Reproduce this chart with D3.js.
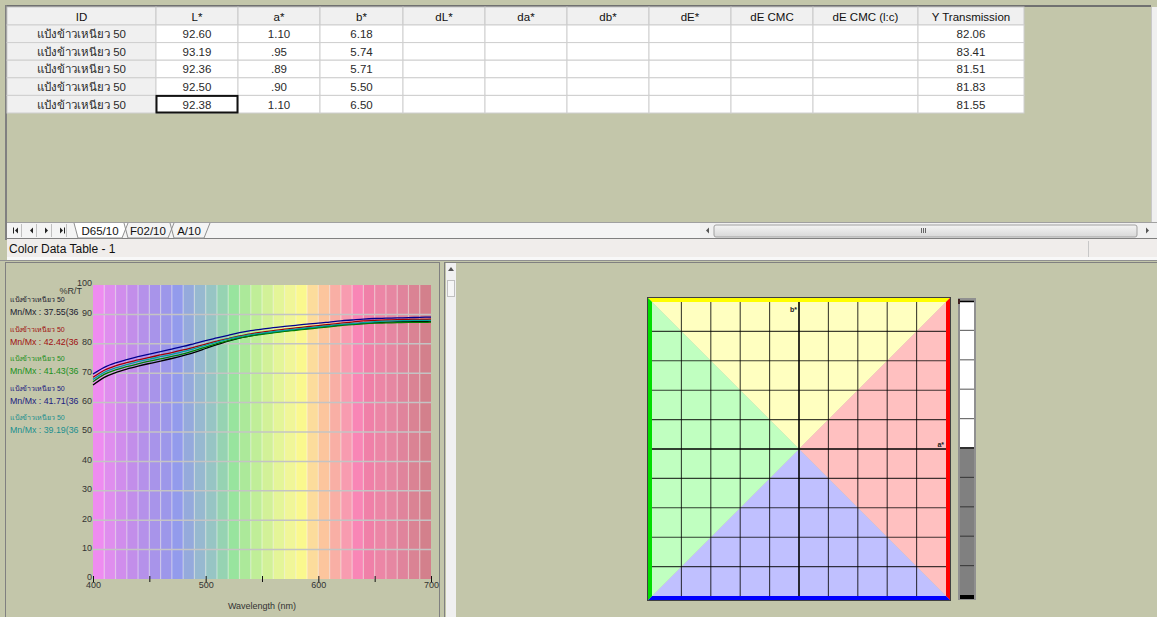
<!DOCTYPE html>
<html lang="en">
<head>
<meta charset="UTF-8">
<title>Color Data Table - 1</title>
<script src="https://cdn.jsdelivr.net/npm/d3@7"></script>
<style>
  body { margin: 0; background: #c3c6aa; }
  svg { display: block; font-family: "Liberation Sans", "DejaVu Sans", "Noto Sans", sans-serif; }
  .axis text { font-size: 9px; fill: #333; }
</style>
</head>
<body>
<script>
// ---- data ----
let columns = ["ID", "L*", "a*", "b*", "dL*", "da*", "db*", "dE*", "dE CMC", "dE CMC (l:c)", "Y Transmission"]
let sampleIds = ["แป้งข้าวเหนียว 50", "แป้งข้าวเหนียว 50", "แป้งข้าวเหนียว 50", "แป้งข้าวเหนียว 50", "แป้งข้าวเหนียว 50"]
let Lvals = ["92.60", "93.19", "92.36", "92.50", "92.38"]
let avals = ["1.10", ".95", ".89", ".90", "1.10"]
let bvals = ["6.18", "5.74", "5.71", "5.50", "6.50"]
let yTrans = ["82.06", "83.41", "81.51", "81.83", "81.55"]
let tabs = ["D65/10", "F02/10", "A/10"]
let minMax = ["37.55", "42.42", "41.43", "41.71", "39.19"]

let wavelengths = d3.range(400, 701, 10)
let seriesBlack = [66.0, 68.6, 70.2, 71.4, 72.4, 73.3, 74.1, 75.0, 76.0, 77.1, 78.4, 79.7, 80.9, 81.9, 82.7, 83.4, 83.9, 84.4, 84.8, 85.2, 85.6, 86.0, 86.4, 86.7, 87.0, 87.2, 87.4, 87.5, 87.6, 87.6, 87.7]
let seriesRed   = [68.6, 71.0, 72.5, 73.6, 74.5, 75.4, 76.2, 77.0, 77.9, 78.9, 79.9, 80.9, 81.8, 82.7, 83.4, 84.0, 84.5, 85.0, 85.4, 85.8, 86.2, 86.6, 87.0, 87.4, 87.8, 88.0, 88.1, 88.2, 88.3, 88.3, 88.4]
let seriesGreen = [67.1, 69.6, 71.1, 72.2, 73.2, 74.1, 74.9, 75.7, 76.6, 77.7, 78.9, 80.1, 81.1, 82.0, 82.7, 83.2, 83.7, 84.2, 84.6, 85.0, 85.4, 85.8, 86.2, 86.5, 86.8, 87.0, 87.1, 87.2, 87.3, 87.3, 87.4]
let seriesBlue  = [69.7, 72.0, 73.5, 74.6, 75.6, 76.5, 77.3, 78.2, 79.1, 80.1, 81.1, 82.0, 82.9, 83.8, 84.5, 85.0, 85.5, 85.9, 86.3, 86.7, 87.0, 87.4, 87.8, 88.1, 88.4, 88.6, 88.7, 88.8, 88.9, 89.0, 89.1]
let seriesTeal  = [67.9, 70.3, 71.8, 72.9, 73.9, 74.8, 75.6, 76.4, 77.3, 78.4, 79.5, 80.6, 81.6, 82.4, 83.1, 83.6, 84.1, 84.6, 85.0, 85.4, 85.8, 86.2, 86.6, 86.9, 87.2, 87.5, 87.7, 87.8, 87.9, 88.0, 88.0]
let yTicks = [0, 10, 20, 30, 40, 50, 60, 70, 80, 90, 100]
let xTicks = [400, 450, 500, 550, 600, 650, 700]
let xLabels = [400, 500, 600, 700]

// styles
let lineColors = ["#000000", "#a00000", "#008000", "#000090", "#00a0a0"]
let legendColors = ["#202030", "#a01010", "#209020", "#202080", "#208f8f"]
let stripeColors = ["#ee8cf0", "#df8eee", "#d08dec", "#c28eea", "#b591ea", "#a894ea", "#9d97ea", "#939bec", "#95aadc", "#97b9d0", "#97c5c4", "#96d3b2", "#98e49e", "#ace99a", "#c0ee98", "#d2f198", "#e4f598", "#f0f698", "#faf88e", "#fcdc9c", "#fcc59d", "#f9afa5", "#f89cb0", "#f986b6", "#f080a8", "#ec86a6", "#e687a2", "#e0849c", "#da8394", "#d3808c"]

let W = 1157, H = 617
let svg = d3.select("body").append("svg").attr("width", W).attr("height", H)
svg.append("rect").attr("width", W).attr("height", H).attr("fill", "#c3c6aa")

// ---- top frame ----
svg.append("rect").attr("x", 5).attr("y", 5).attr("width", 1146).attr("height", 2).attr("fill", "#707070")
svg.append("rect").attr("x", 5).attr("y", 5).attr("width", 2).attr("height", 235).attr("fill", "#808080")
svg.append("rect").attr("x", 1151).attr("y", 7).attr("width", 6).attr("height", 215).attr("fill", "#f0f0f0")
svg.append("line").attr("x1", 1151.5).attr("x2", 1151.5).attr("y1", 7).attr("y2", 222).attr("stroke", "#c8c8c8")

// ---- table ----
let colEdges = [7, 156, 238, 320, 403, 485, 567, 649, 731, 813, 918, 1024]
let rowScale = d3.scaleBand().domain(d3.range(sampleIds.length)).range([25, 113])
let table = svg.append("g")

columns.forEach((c, i) => {
  table.append("rect").attr("x", colEdges[i]).attr("y", 7).attr("width", colEdges[i + 1] - colEdges[i]).attr("height", 18)
    .attr("fill", "#f0f0f0").attr("stroke", "#c8c8c8")
  table.append("text").attr("x", (colEdges[i] + colEdges[i + 1]) / 2).attr("y", 21).attr("text-anchor", "middle")
    .attr("font-size", "11.5px").attr("fill", "#111").text(c)
})

let rows = sampleIds.map((id, i) => [id, Lvals[i], avals[i], bvals[i], "", "", "", "", "", "", yTrans[i]])
rows.forEach((r, ri) => {
  let y0 = rowScale(ri), h = rowScale.bandwidth()
  r.forEach((v, ci) => {
    table.append("rect").attr("x", colEdges[ci]).attr("y", y0).attr("width", colEdges[ci + 1] - colEdges[ci]).attr("height", h)
      .attr("fill", ci === 0 ? "#f0f0f0" : "#ffffff").attr("stroke", "#cfcfcf")
    if (v !== "")
      table.append("text").attr("x", (colEdges[ci] + colEdges[ci + 1]) / 2).attr("y", y0 + h - 4.5).attr("text-anchor", "middle")
        .attr("font-size", "11.5px").attr("fill", "#2a2a2a").text(v)
  })
})
table.append("rect").attr("x", colEdges[1] + 0.5).attr("y", rowScale(4) + 0.5).attr("width", colEdges[2] - colEdges[1] - 1)
  .attr("height", rowScale.bandwidth() - 1).attr("fill", "none").attr("stroke", "#111").attr("stroke-width", 2)

// ---- tab bar ----
let tabBar = svg.append("g")
tabBar.append("rect").attr("x", 7).attr("y", 222).attr("width", 1150).attr("height", 17).attr("fill", "#f4f4f4")
tabBar.append("line").attr("x1", 7).attr("x2", 1157).attr("y1", 222.5).attr("y2", 222.5).attr("stroke", "#a0a0a0")
tabBar.append("line").attr("x1", 7).attr("x2", 1157).attr("y1", 238.5).attr("y2", 238.5).attr("stroke", "#808080")
let navX = [12, 27, 42, 57]
navX.forEach((x, i) => {
  tabBar.append("line").attr("x1", x + 9.5).attr("x2", x + 9.5).attr("y1", 224).attr("y2", 237).attr("stroke", "#c0c0c0")
  let left = i < 2
  let cx = x + 4, cy = 230.5
  tabBar.append("path").attr("d", left ? `M${cx + 2},${cy - 3}L${cx - 1},${cy}L${cx + 2},${cy + 3}Z` : `M${cx - 1},${cy - 3}L${cx + 2},${cy}L${cx - 1},${cy + 3}Z`).attr("fill", "#222")
  if (i === 0) tabBar.append("rect").attr("x", cx - 3).attr("y", cy - 3).attr("width", 1).attr("height", 6).attr("fill", "#222")
  if (i === 3) tabBar.append("rect").attr("x", cx + 3).attr("y", cy - 3).attr("width", 1).attr("height", 6).attr("fill", "#222")
})
let tabX = [[74, 124], [124, 170], [170, 206]]
tabs.forEach((t, i) => {
  let [a, b] = tabX[i]
  tabBar.append("path").attr("d", `M${a},223 L${a + 4},238 L${b - 2},238 L${b + 4},223`).attr("fill", i === 0 ? "#ffffff" : "none").attr("stroke", "#909090")
  tabBar.append("text").attr("x", (a + b) / 2 + 1).attr("y", 234.5).attr("text-anchor", "middle").attr("font-size", "11.5px").attr("fill", "#111").text(t)
})
tabBar.append("rect").attr("x", 700).attr("y", 223).attr("width", 457).attr("height", 15).attr("fill", "#f0f0f0")
tabBar.append("path").attr("d", "M706,230.5L709,227.5L709,233.5Z").attr("fill", "#555")
tabBar.append("path").attr("d", "M1146,227.5L1149,230.5L1146,233.5Z").attr("fill", "#555")
let grad = svg.append("defs").append("linearGradient").attr("id", "thumb").attr("x1", 0).attr("x2", 0).attr("y1", 0).attr("y2", 1)
grad.append("stop").attr("offset", 0).attr("stop-color", "#f4f4f4")
grad.append("stop").attr("offset", 1).attr("stop-color", "#d8d8d8")
tabBar.append("rect").attr("x", 714).attr("y", 225).attr("width", 423).attr("height", 12).attr("rx", 2).attr("fill", "url(#thumb)").attr("stroke", "#a0a0a0")
;[921, 923, 925].forEach(x => tabBar.append("line").attr("x1", x + 0.5).attr("x2", x + 0.5).attr("y1", 228).attr("y2", 233).attr("stroke", "#666"))

// ---- status bar ----
svg.append("rect").attr("x", 7).attr("y", 239).attr("width", 1150).attr("height", 19).attr("fill", "#f0edeb")
svg.append("rect").attr("x", 7).attr("y", 257).attr("width", 1150).attr("height", 3).attr("fill", "#f8f8f8")
svg.append("line").attr("x1", 0).attr("x2", W).attr("y1", 260.5).attr("y2", 260.5).attr("stroke", "#909090")
svg.append("line").attr("x1", 1088.5).attr("x2", 1088.5).attr("y1", 241).attr("y2", 257).attr("stroke", "#c8c8c8")
svg.append("text").attr("x", 9).attr("y", 253).attr("font-size", "12px").attr("fill", "#111").text("Color Data Table - 1")

// ---- bottom panels ----
svg.append("rect").attr("x", 5.5).attr("y", 262.5).attr("width", 434).attr("height", 360).attr("fill", "none").attr("stroke", "#808080")
svg.append("rect").attr("x", 444.5).attr("y", 262.5).attr("width", 720).attr("height", 360).attr("fill", "none").attr("stroke", "#808080")
svg.append("rect").attr("x", 446).attr("y", 263).attr("width", 10).attr("height", 354).attr("fill", "#f0f0f0")
svg.append("path").attr("d", "M448,271L451,267L454,271Z").attr("fill", "#555")
svg.append("rect").attr("x", 447.5).attr("y", 280.5).attr("width", 7).attr("height", 16).attr("fill", "#f6f6f6").attr("stroke", "#c0c0c0")

// ---- spectral chart ----
let x = d3.scaleLinear().domain([400, 700]).range([93, 431])
let y = d3.scaleLinear().domain([0, 100]).range([579, 285])
let chart = svg.append("g")

chart.selectAll("rect.stripe").data(wavelengths.slice(0, -1)).enter().append("rect")
  .attr("x", d => x(d)).attr("y", y(100)).attr("width", d => x(d + 10) - x(d)).attr("height", y(0) - y(100))
  .attr("fill", (d, i) => stripeColors[i])
chart.selectAll("line.vg").data(wavelengths.slice(1, -1)).enter().append("line")
  .attr("x1", d => x(d)).attr("x2", d => x(d)).attr("y1", y(100)).attr("y2", y(0))
  .attr("stroke", "#ffffff").attr("stroke-opacity", 0.4).attr("stroke-width", 1.2)
chart.selectAll("line.hg").data(yTicks.slice(1, -1)).enter().append("line")
  .attr("x1", x(400)).attr("x2", x(700)).attr("y1", d => y(d)).attr("y2", d => y(d))
  .attr("stroke", "#c4c4c4").attr("stroke-width", 1.5)

let series = [seriesBlack, seriesRed, seriesGreen, seriesBlue, seriesTeal]
let line = d3.line().x((d, i) => x(wavelengths[i])).y(d => y(d)).curve(d3.curveMonotoneX)
chart.selectAll("path.curve").data(series).enter().append("path")
  .attr("d", line).attr("fill", "none").attr("stroke", (d, i) => lineColors[i]).attr("stroke-width", 1.3)

let yAxis = d3.axisLeft(y).tickValues(yTicks).tickSize(0).tickPadding(1)
let ya = chart.append("g").attr("class", "axis").attr("transform", `translate(${x(400)},0)`).call(yAxis)
ya.select(".domain").remove()
ya.selectAll("text").attr("dy", "0.1em")

let xAxis = d3.axisBottom(x).tickValues(xTicks).tickSize(3).tickPadding(0)
  .tickFormat(d => xLabels.includes(d) ? d : "")
let xa = chart.append("g").attr("class", "axis").attr("transform", `translate(0,${y(0)})`).call(xAxis)
xa.select(".domain").remove()
xa.selectAll(".tick line").attr("y1", -3).attr("stroke", "#111")

chart.append("text").attr("x", 82).attr("y", 294).attr("text-anchor", "end").attr("font-size", "9px").attr("fill", "#333").text("%R/T")
chart.append("text").attr("x", (x(400) + x(700)) / 2).attr("y", 609).attr("text-anchor", "middle").attr("font-size", "9px").attr("fill", "#333").text("Wavelength (nm)")

// legend (cut off by the axis, as in the instrument software)
svg.append("clipPath").attr("id", "legclip").append("rect").attr("x", 8).attr("y", 285).attr("width", 72).attr("height", 160)
let legend = chart.append("g").attr("clip-path", "url(#legclip)")
minMax.forEach((m, i) => {
  let base = y(90) + i * (y(80) - y(90))
  legend.append("text").attr("x", 10).attr("y", base - 12).attr("font-size", "7px").attr("fill", legendColors[i]).text(sampleIds[i])
  legend.append("text").attr("x", 10).attr("y", base + 1).attr("font-size", "8.8px").attr("fill", legendColors[i]).text("Mn/Mx : " + m + "(36")
})

// ---- a*b* diagram ----
let a = d3.scaleLinear().domain([-5, 5]).range([652, 946])
let b = d3.scaleLinear().domain([-5, 5]).range([596, 302])
let ab = svg.append("g")
let cx = a(0), cy = b(0)
let quads = [
  [[a(-5), b(5)], [a(5), b(5)], "#ffffc0"],
  [[a(5), b(5)], [a(5), b(-5)], "#ffc0c0"],
  [[a(5), b(-5)], [a(-5), b(-5)], "#c0c0ff"],
  [[a(-5), b(-5)], [a(-5), b(5)], "#c0ffc0"]
]
quads.forEach(q => ab.append("path").attr("d", `M${q[0][0]},${q[0][1]}L${q[1][0]},${q[1][1]}L${cx},${cy}Z`).attr("fill", q[2]))
let gridVals = d3.range(-4, 5)
ab.selectAll("line.av").data(gridVals).enter().append("line")
  .attr("x1", d => a(d)).attr("x2", d => a(d)).attr("y1", b(5)).attr("y2", b(-5))
  .attr("stroke", "#000").attr("stroke-opacity", d => d === 0 ? 1 : 0.75).attr("stroke-width", d => d === 0 ? 1.6 : 1.1)
ab.selectAll("line.bh").data(gridVals).enter().append("line")
  .attr("x1", a(-5)).attr("x2", a(5)).attr("y1", d => b(d)).attr("y2", d => b(d))
  .attr("stroke", "#000").attr("stroke-opacity", d => d === 0 ? 1 : 0.75).attr("stroke-width", d => d === 0 ? 1.6 : 1.1)
let o = 4, L = a(-5), R = a(5), T = b(5), B = b(-5)
ab.append("path").attr("d", `M${L - o},${T - o}L${R + o},${T - o}L${R},${T}L${L},${T}Z`).attr("fill", "#ffff00")
ab.append("path").attr("d", `M${R + o},${T - o}L${R + o},${B + o}L${R},${B}L${R},${T}Z`).attr("fill", "#ff0000")
ab.append("path").attr("d", `M${R + o},${B + o}L${L - o},${B + o}L${L},${B}L${R},${B}Z`).attr("fill", "#0000ff")
ab.append("path").attr("d", `M${L - o},${B + o}L${L - o},${T - o}L${L},${T}L${L},${B}Z`).attr("fill", "#00dd00")
ab.append("rect").attr("x", L - o - 0.5).attr("y", T - o - 0.5).attr("width", R - L + 2 * o + 1).attr("height", B - T + 2 * o + 1)
  .attr("fill", "none").attr("stroke", "#404040")
ab.append("text").attr("x", cx - 2).attr("y", T + 10).attr("text-anchor", "end").attr("font-size", "7px").attr("font-weight", "bold").attr("fill", "#222").text("b*")
ab.append("text").attr("x", R - 2).attr("y", cy - 2).attr("text-anchor", "end").attr("font-size", "7px").attr("font-weight", "bold").attr("fill", "#222").text("a*")

// ---- lightness bar ----
let l = d3.scaleLinear().domain([0, 100]).range([595, 301])
let lb = svg.append("g")
lb.append("rect").attr("x", 958).attr("y", 298).attr("width", 18).attr("height", 302).attr("fill", "#909090")
lb.append("rect").attr("x", 960).attr("y", l(100)).attr("width", 14).attr("height", l(50) - l(100)).attr("fill", "#ffffff")
lb.append("rect").attr("x", 960).attr("y", l(50)).attr("width", 14).attr("height", l(0) - l(50)).attr("fill", "#808080")
lb.append("rect").attr("x", 960).attr("y", l(0)).attr("width", 14).attr("height", 4).attr("fill", "#000")
lb.selectAll("line.lt").data(d3.range(10, 100, 10)).enter().append("line")
  .attr("x1", 960).attr("x2", 974).attr("y1", d => l(d)).attr("y2", d => l(d))
  .attr("stroke", d => d === 50 ? "#303030" : (d > 50 ? "#707070" : "#404040")).attr("stroke-width", d => d === 50 ? 2 : 1.2)
lb.append("line").attr("x1", 960).attr("x2", 974).attr("y1", l(100) + 0.5).attr("y2", l(100) + 0.5).attr("stroke", "#000").attr("stroke-width", 1.5)
lb.append("rect").attr("x", 958).attr("y", 299).attr("width", 2).attr("height", 5).attr("fill", "#402020")
</script>
</body>
</html>
